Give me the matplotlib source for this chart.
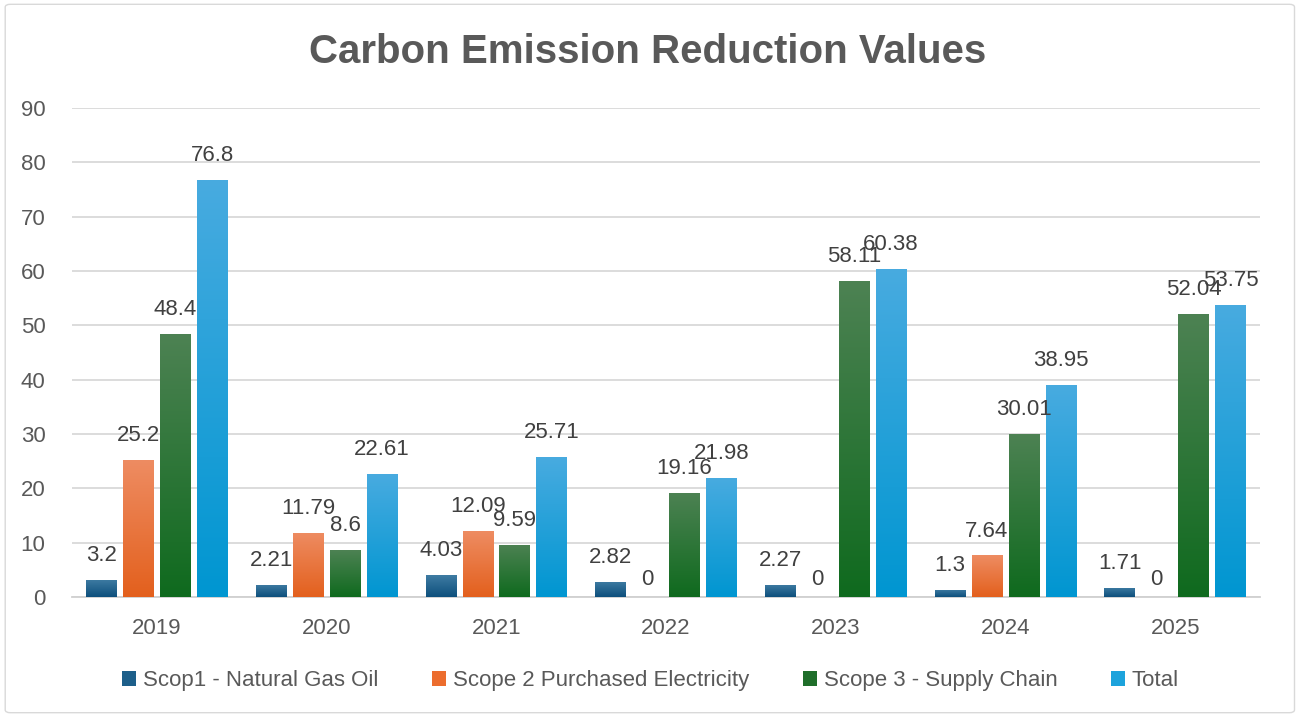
import matplotlib
matplotlib.use("Agg")
import matplotlib.pyplot as plt
import numpy as np
from matplotlib.colors import LinearSegmentedColormap
from matplotlib.patches import FancyBboxPatch, Patch

plt.rcParams['font.family'] = ['Liberation Sans', 'DejaVu Sans']

years = ["2019", "2020", "2021", "2022", "2023", "2024", "2025"]
series_names = ["Scop1 - Natural Gas Oil", "Scope 2 Purchased Electricity",
                "Scope 3 - Supply Chain", "Total"]
scope1 = [3.2, 2.21, 4.03, 2.82, 2.27, 1.3, 1.71]
scope2 = [25.2, 11.79, 12.09, 0, 0, 7.64, 0]
scope3 = [48.4, 8.6, 9.59, 19.16, 58.11, 30.01, 52.04]
total = [76.8, 22.61, 25.71, 21.98, 60.38, 38.95, 53.75]
yticks = [0, 10, 20, 30, 40, 50, 60, 70, 80, 90]

series = [scope1, scope2, scope3, total]
# (top colour, bottom colour, legend colour)
colors = [("#3f7ca3", "#0d4f7c", "#1d5f8a"),
          ("#ee8c62", "#e3601d", "#ec6d2e"),
          ("#4d8253", "#0f6a1e", "#1f6e2a"),
          ("#48abe0", "#0096d1", "#1da3dc")]

fig = plt.figure(figsize=(13.01, 7.17), dpi=100)
ax = fig.add_axes([0.0553, 0.1674, 0.9132, 0.682])

n = len(years)
x = np.arange(n)
step = 0.2176
width = 0.18
offsets = [-1.5 * step, -0.5 * step, 0.5 * step, 1.5 * step]
textc = "#595959"
fs = 16

for s, vals in enumerate(series):
    top, bot, leg = colors[s]
    bars = ax.bar(x + offsets[s], vals, width, color=leg, zorder=3, linewidth=0)
    cmap = LinearSegmentedColormap.from_list(f"g{s}", [bot, top])
    grad = np.linspace(0, 1, 256).reshape(-1, 1)
    for b, v in zip(bars, vals):
        x0 = b.get_x()
        if v > 0:
            im = ax.imshow(grad, cmap=cmap, aspect='auto', origin='lower',
                           extent=[x0, x0 + width, 0, v], zorder=3.5,
                           interpolation='bicubic')
            im.set_clip_path(b)
            dy = 10
        else:
            dy = 5
        ax.annotate(f"{v:g}", (x0 + width / 2, v), xytext=(0, dy),
                    textcoords='offset points', ha='center', va='bottom',
                    fontsize=fs, color="#404040", zorder=5)

ax.set_xlim(-0.5, n - 0.5)
ax.set_ylim(0, 90)
ax.set_yticks(yticks)
ax.set_yticklabels([str(t) for t in yticks])
ax.set_xticks(x)
ax.set_xticklabels(years)
ax.tick_params(axis='both', length=0, labelsize=fs, colors=textc)
ax.tick_params(axis='y', pad=19)
ax.tick_params(axis='x', pad=15)
ax.grid(axis='y', color="#d9d9d9", linewidth=1.3, zorder=0)
for sp in ['top', 'right', 'left']:
    ax.spines[sp].set_visible(False)
ax.spines['bottom'].set_color("#d0d0d0")
ax.spines['bottom'].set_linewidth(1.3)
ax.set_axisbelow(True)

fig.text(0.498, 0.928, "Carbon Emission Reduction Values", ha='center', va='center',
         fontsize=29, fontweight='bold', color=textc)

handles = [Patch(facecolor=colors[i][2], edgecolor='none') for i in range(4)]
fig.legend(handles, series_names, loc='center', bbox_to_anchor=(0.5, 0.051),
           ncol=4, frameon=False, fontsize=fs, labelcolor=textc,
           handlelength=0.65, handleheight=0.65, handletextpad=0.3,
           columnspacing=2.4)

border = FancyBboxPatch((0.004, 0.006), 0.991, 0.988,
                        boxstyle="round,pad=0,rounding_size=0.004",
                        transform=fig.transFigure, fill=False,
                        edgecolor="#d9d9d9", linewidth=1)
fig.patches.append(border)

fig.savefig("out.png", dpi=100)
